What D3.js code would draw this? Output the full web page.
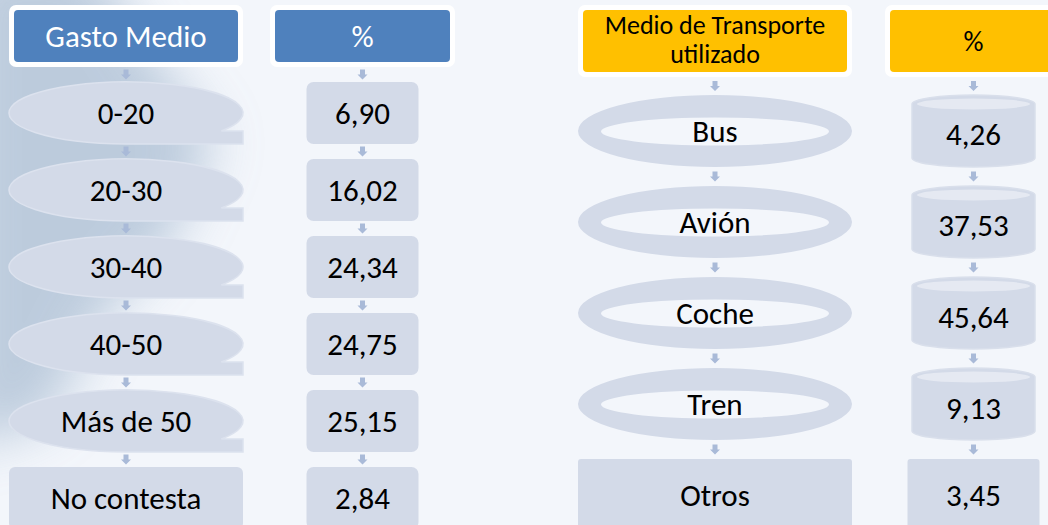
<!DOCTYPE html>
<html>
<head>
<meta charset="utf-8">
<script src="https://cdn.jsdelivr.net/npm/d3@7"></script>
<style>
  html, body { margin: 0; padding: 0; background: #f3f6fb; }
  svg { display: block; font-family: Carlito, Calibri, Lato, sans-serif; }
</style>
</head>
<body>
<svg id="chart"></svg>
<script>
// Gasto medio
const gastoTitulo = "Gasto Medio";
const gastoCategorias = ["0-20", "20-30", "30-40", "40-50", "Más de 50", "No contesta"];
const gastoPct = [6.90, 16.02, 24.34, 24.75, 25.15, 2.84];

// Medio de transporte
const transporteTitulo = ["Medio de Transporte", "utilizado"];
const transporteCategorias = ["Bus", "Avión", "Coche", "Tren", "Otros"];
const transportePct = [4.26, 37.53, 45.64, 9.13, 3.45];

const width = 1048, height = 525;
const fill = "#d3dae8", bg = "#f3f6fb", arrowCol = "#a9bad8";
const fs = 31;

const es = d3.formatLocale({decimal: ",", thousands: ".", grouping: [3], currency: ["", " €"]});
const fmt = es.format(".2f");

const svg = d3.select("#chart").attr("width", width).attr("height", height);

const defs = svg.append("defs");
defs.append("filter").attr("id", "blur")
  .attr("x", "-50%").attr("y", "-50%").attr("width", "200%").attr("height", "200%")
  .append("feGaussianBlur").attr("stdDeviation", 26);

svg.append("rect").attr("width", width).attr("height", height).attr("fill", bg);

// faded photo in the background, left side
svg.append("path")
  .attr("d", "M-40,-40 L90,-40 L150,50 L215,140 L170,240 L100,320 L50,420 L-40,450 Z")
  .attr("fill", "#a6bad0")
  .attr("opacity", 0.7)
  .attr("filter", "url(#blur)");

const arrow = (g, cx, top, bottom) => {
  const cy = (top + bottom) / 2;
  g.append("path")
    .attr("d", `M${cx - 2.5},${cy - 5} L${cx + 2.5},${cy - 5} L${cx + 2.5},${cy} L${cx + 5},${cy} L${cx},${cy + 5} L${cx - 5},${cy} L${cx - 2.5},${cy} Z`)
    .attr("fill", arrowCol);
};

const header = (g, x0, x1, y0, y1, color) => {
  g.append("rect").attr("x", x0).attr("y", y0).attr("width", x1 - x0).attr("height", y1 - y0)
    .attr("rx", 7).attr("fill", "#ffffff");
  g.append("rect").attr("x", x0 + 5).attr("y", y0 + 5).attr("width", x1 - x0 - 10).attr("height", y1 - y0 - 10)
    .attr("rx", 4).attr("fill", color);
};

const label = (g, x, y, txt, size, color) =>
  g.append("text").attr("x", x).attr("y", y).attr("text-anchor", "middle")
    .attr("dominant-baseline", "central")
    .attr("font-size", size).attr("fill", color || "#000").text(txt);

// ---------- Left block ----------
const left = svg.append("g");
const yL = d3.scaleBand().domain(gastoCategorias).range([82, 529]).paddingInner(0.195).paddingOuter(0);
const catL = {x0: 9, x1: 243};
const valL = {cx: 362.5, w: 112};
const catLcx = (catL.x0 + catL.x1) / 2;

header(left, catL.x0, catL.x1, 5, 67, "#4f81bd");
header(left, 270, 455, 5, 67, "#4f81bd");
label(left, catLcx, 36, gastoTitulo, fs, "#fff");
label(left, valL.cx, 36, "%", fs, "#fff");

const tapePath = (x0, y0, w, h) => {
  const cx = x0 + w / 2, cy = y0 + h / 2, rx = w / 2, ry = h / 2;
  const ty = y0 + h - h * 0.21;
  const dx = rx * Math.sqrt(1 - Math.pow((ty - cy) / ry, 2));
  return `M${cx},${y0 + h} A${rx},${ry} 0 1 1 ${cx + dx},${ty} L${x0 + w},${ty} L${x0 + w},${y0 + h} Z`;
};

gastoCategorias.forEach((c, i) => {
  const y = yL(c), h = yL.bandwidth();
  const last = i === gastoCategorias.length - 1;
  if (last) {
    left.append("rect").attr("x", catL.x0).attr("y", y).attr("width", catL.x1 - catL.x0)
      .attr("height", h).attr("rx", 6).attr("fill", fill);
  } else {
    left.append("path").attr("d", tapePath(catL.x0, y, catL.x1 - catL.x0, h))
      .attr("fill", fill).attr("stroke", "#dce2ee").attr("stroke-width", 1.5);
  }
  label(left, catLcx, y + h / 2, c, fs);

  left.append("rect").attr("x", valL.cx - valL.w / 2).attr("y", y).attr("width", valL.w)
    .attr("height", h).attr("rx", 7).attr("fill", fill);
  label(left, valL.cx, y + h / 2, fmt(gastoPct[i]), fs);

  const prevBottom = i === 0 ? 67 : yL(gastoCategorias[i - 1]) + h;
  arrow(left, catLcx, prevBottom, y);
  arrow(left, valL.cx, prevBottom, y);
});

// ---------- Right block ----------
const right = svg.append("g");
const yR = d3.scaleBand().domain(transporteCategorias).range([95, 531]).paddingInner(0.209).paddingOuter(0);
const catR = {x0: 578, x1: 852};
const valR = {cx: 973.5, w: 123};
const catRcx = (catR.x0 + catR.x1) / 2;

header(right, catR.x0, catR.x1, 5, 77, "#ffc000");
header(right, 885, 1062, 5, 77, "#ffc000");
label(right, catRcx, 25, transporteTitulo[0], 26);
label(right, catRcx, 54, transporteTitulo[1], 26);
label(right, valR.cx, 41, "%", 28);

const ringPath = (cx, cy, rx, ry) =>
  `M${cx - rx},${cy} a${rx},${ry} 0 1,0 ${2 * rx},0 a${rx},${ry} 0 1,0 ${-2 * rx},0 Z`;

const canPath = (x0, y0, w, h, ry) => {
  const rx = w / 2, x1 = x0 + w;
  return `M${x0},${y0 + ry} A${rx},${ry} 0 0 1 ${x1},${y0 + ry} L${x1},${y0 + h - ry} A${rx},${ry} 0 0 1 ${x0},${y0 + h - ry} Z`;
};

transporteCategorias.forEach((c, i) => {
  const y = yR(c), h = yR.bandwidth();
  const last = i === transporteCategorias.length - 1;
  const cy = y + h / 2;
  if (last) {
    right.append("rect").attr("x", catR.x0).attr("y", y).attr("width", catR.x1 - catR.x0)
      .attr("height", h).attr("rx", 3).attr("fill", fill);
    right.append("rect").attr("x", valR.cx - 66).attr("y", y).attr("width", 132)
      .attr("height", h).attr("rx", 3).attr("fill", fill);
    label(right, valR.cx, cy, fmt(transportePct[i]), fs);
  } else {
    const rx = (catR.x1 - catR.x0) / 2;
    right.append("path")
      .attr("d", ringPath(catRcx, cy, rx, h / 2) + ringPath(catRcx, cy + 0.5, rx - 23, h / 2 - 22))
      .attr("fill-rule", "evenodd").attr("fill", fill);
    const x0 = valR.cx - valR.w / 2;
    right.append("path").attr("d", canPath(x0, y, valR.w, h, 9))
      .attr("fill", fill).attr("stroke", "#d9dfeb").attr("stroke-width", 1.5);
    right.append("ellipse").attr("cx", valR.cx).attr("cy", y + 9)
      .attr("rx", valR.w / 2 - 5).attr("ry", 5.5).attr("fill", "#e5e9f2");
    label(right, valR.cx, y + 9 + (h - 9) / 2 - 1, fmt(transportePct[i]), fs);
  }
  label(right, catRcx, cy, c, fs);

  const prevBottom = i === 0 ? 77 : yR(transporteCategorias[i - 1]) + h;
  arrow(right, catRcx, prevBottom, y);
  arrow(right, valR.cx, prevBottom, y);
});
</script>
</body>
</html>
